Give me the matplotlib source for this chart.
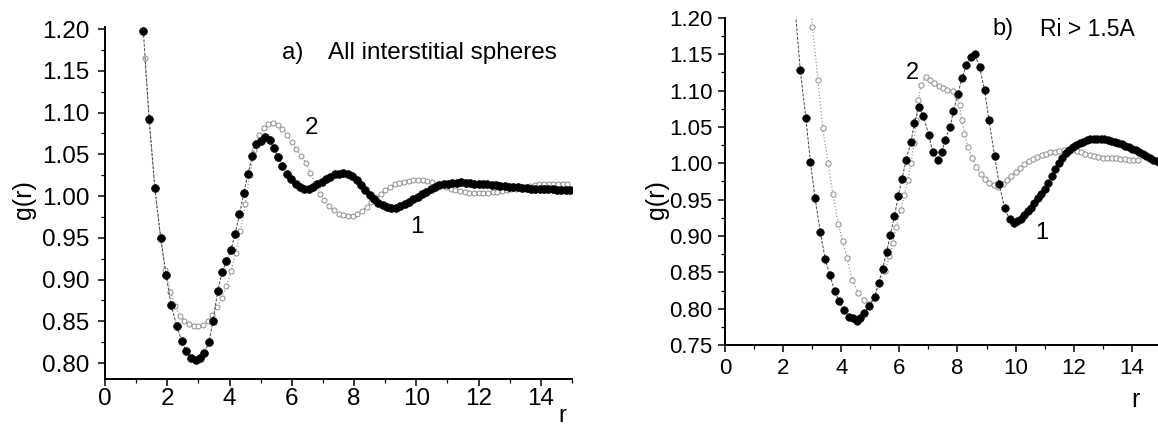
import matplotlib
matplotlib.use("Agg")
import matplotlib.pyplot as plt
from matplotlib.ticker import MultipleLocator, FormatStrFormatter

plt.rcParams['font.family'] = ['Liberation Sans', 'DejaVu Sans']

# ---------------- Panel a: all interstitial spheres ----------------
a1_r = [1.23, 1.42, 1.60, 1.79, 1.96, 2.12, 2.30, 2.46, 2.61, 2.76, 2.92, 3.05, 3.19, 3.34,
        3.47, 3.62, 3.76, 3.90, 4.04, 4.18, 4.32, 4.46, 4.59, 4.73, 4.86, 5.00, 5.15, 5.29,
        5.42, 5.56, 5.70, 5.84, 5.98, 6.12, 6.26, 6.40, 6.54, 6.68, 6.82, 6.96, 7.10, 7.24,
        7.38, 7.52, 7.66, 7.80, 7.94, 8.08, 8.22, 8.36, 8.50, 8.64, 8.78, 8.92, 9.06, 9.20,
        9.34, 9.48, 9.62, 9.76, 9.90, 10.04, 10.18, 10.32, 10.46, 10.60, 10.74, 10.88, 11.02,
        11.16, 11.30, 11.44, 11.58, 11.72, 11.86, 12.00, 12.14, 12.28, 12.42, 12.56, 12.70,
        12.84, 12.98, 13.12, 13.26, 13.40, 13.54, 13.68, 13.82, 13.96, 14.10, 14.24, 14.38,
        14.52, 14.66, 14.80, 14.94]
a1_g = [1.198, 1.092, 1.010, 0.950, 0.906, 0.870, 0.845, 0.827, 0.814, 0.806, 0.804, 0.806,
        0.812, 0.825, 0.851, 0.886, 0.909, 0.922, 0.935, 0.955, 0.978, 1.004, 1.026, 1.048,
        1.062, 1.066, 1.071, 1.067, 1.058, 1.047, 1.036, 1.027, 1.021, 1.015, 1.011, 1.009,
        1.009, 1.011, 1.014, 1.017, 1.020, 1.023, 1.026, 1.027, 1.028, 1.027, 1.024, 1.019,
        1.013, 1.007, 1.001, 0.996, 0.992, 0.989, 0.987, 0.986, 0.986, 0.988, 0.990, 0.993,
        0.996, 0.999, 1.002, 1.005, 1.008, 1.011, 1.013, 1.014, 1.015, 1.016, 1.016, 1.017,
        1.016, 1.016, 1.015, 1.015, 1.014, 1.014, 1.013, 1.013, 1.012, 1.012, 1.011, 1.011,
        1.011, 1.010, 1.010, 1.009, 1.009, 1.009, 1.008, 1.008, 1.008, 1.007, 1.007, 1.007,
        1.007]

a2_r = [1.28, 1.42, 1.60, 1.78, 1.94, 2.10, 2.25, 2.40, 2.55, 2.70, 2.85, 3.00, 3.15, 3.30,
        3.45, 3.60, 3.75, 3.90, 4.05, 4.20, 4.35, 4.50, 4.65, 4.80, 4.95, 5.10, 5.25, 5.40,
        5.55, 5.70, 5.85, 6.00, 6.15, 6.30, 6.45, 6.60, 6.75, 6.90, 7.05, 7.20, 7.35, 7.50,
        7.65, 7.80, 7.95, 8.10, 8.25, 8.40, 8.55, 8.70, 8.85, 9.00, 9.15, 9.30, 9.45, 9.60,
        9.75, 9.90, 10.05, 10.20, 10.35, 10.50, 10.65, 10.80, 10.95, 11.10, 11.25, 11.40,
        11.55, 11.70, 11.85, 12.00, 12.15, 12.30, 12.45, 12.60, 12.75, 12.90, 13.05, 13.20,
        13.35, 13.50, 13.65, 13.80, 13.95, 14.10, 14.25, 14.40, 14.55, 14.70, 14.85]
a2_g = [1.165, 1.090, 1.010, 0.950, 0.912, 0.885, 0.868, 0.857, 0.851, 0.847, 0.845, 0.844,
        0.846, 0.851, 0.858, 0.867, 0.878, 0.892, 0.910, 0.932, 0.958, 0.990, 1.025, 1.055,
        1.073, 1.082, 1.086, 1.087, 1.085, 1.080, 1.073, 1.065, 1.056, 1.048, 1.040, 1.028,
        1.015, 1.003, 0.995, 0.988, 0.983, 0.979, 0.977, 0.976, 0.976, 0.978, 0.982, 0.987,
        0.993, 0.998, 1.003, 1.007, 1.011, 1.014, 1.016, 1.017, 1.018, 1.019, 1.019, 1.019,
        1.018, 1.017, 1.015, 1.013, 1.011, 1.009, 1.007, 1.006, 1.005, 1.004, 1.004, 1.004,
        1.004, 1.004, 1.005, 1.005, 1.006, 1.007, 1.008, 1.009, 1.010, 1.011, 1.012, 1.013,
        1.014, 1.014, 1.015, 1.015, 1.015, 1.015, 1.015]

# ---------------- Panel b: Ri > 1.5A ----------------
b1_r = [2.42, 2.59, 2.78, 2.94, 3.10, 3.28, 3.45, 3.61, 3.77, 3.93, 4.09, 4.25, 4.39, 4.53,
        4.66, 4.79, 4.97, 5.15, 5.29, 5.42, 5.56, 5.69, 5.83, 5.96, 6.09, 6.23, 6.40, 6.52,
        6.67, 6.83, 7.01, 7.15, 7.32, 7.46, 7.57, 7.75, 7.86, 8.01, 8.16, 8.30, 8.45, 8.59,
        8.76, 8.93, 9.08, 9.28, 9.43, 9.62, 9.79, 9.93, 10.05, 10.17, 10.29, 10.41, 10.53,
        10.65, 10.77, 10.89, 11.01, 11.13, 11.25, 11.37, 11.49, 11.61, 11.73, 11.85, 11.97,
        12.09, 12.21, 12.33, 12.45, 12.57, 12.69, 12.81, 12.93, 13.05, 13.17, 13.29, 13.41,
        13.53, 13.65, 13.77, 13.89, 14.01, 14.13, 14.25, 14.37, 14.49, 14.61, 14.73, 14.85,
        14.97]
b1_g = [1.210, 1.128, 1.063, 1.002, 0.952, 0.905, 0.868, 0.846, 0.825, 0.810, 0.798, 0.789,
        0.787, 0.783, 0.787, 0.794, 0.804, 0.816, 0.836, 0.854, 0.878, 0.902, 0.927, 0.955,
        0.979, 1.004, 1.030, 1.055, 1.077, 1.065, 1.039, 1.015, 1.005, 1.015, 1.032, 1.050,
        1.072, 1.095, 1.118, 1.135, 1.147, 1.150, 1.133, 1.101, 1.060, 1.010, 0.972, 0.939,
        0.923, 0.918, 0.920, 0.924, 0.929, 0.934, 0.939, 0.945, 0.952, 0.958, 0.965, 0.973,
        0.982, 0.992, 1.000, 1.008, 1.014, 1.018, 1.022, 1.025, 1.028, 1.030, 1.032, 1.033,
        1.033, 1.033, 1.033, 1.033, 1.032, 1.031, 1.030, 1.028, 1.026, 1.024, 1.022, 1.020,
        1.018, 1.016, 1.013, 1.010, 1.007, 1.005, 1.003, 1.001]

b2_r = [2.85, 3.01, 3.20, 3.36, 3.55, 3.71, 3.90, 4.05, 4.20, 4.38, 4.58, 4.78, 4.95, 5.13,
        5.31, 5.50, 5.66, 5.77, 5.89, 6.05, 6.17, 6.29, 6.40, 6.50, 6.58, 6.64, 6.75, 6.90,
        7.05, 7.20, 7.35, 7.50, 7.65, 7.84, 7.98, 8.07, 8.15, 8.24, 8.36, 8.50, 8.65, 8.80,
        8.95, 9.10, 9.25, 9.40, 9.55, 9.70, 9.85, 10.00, 10.15, 10.30, 10.45, 10.60, 10.75,
        10.90, 11.05, 11.20, 11.35, 11.50, 11.65, 11.80, 11.95, 12.10, 12.25, 12.40, 12.55,
        12.70, 12.85, 13.00, 13.15, 13.30, 13.45, 13.60, 13.75, 13.90, 14.05, 14.20]
b2_g = [1.250, 1.188, 1.115, 1.048, 1.001, 0.958, 0.917, 0.893, 0.870, 0.840, 0.822, 0.812,
        0.806, 0.815, 0.835, 0.852, 0.872, 0.890, 0.913, 0.936, 0.956, 0.977, 1.000, 1.028,
        1.060, 1.087, 1.108, 1.119, 1.115, 1.110, 1.106, 1.103, 1.101, 1.099, 1.092, 1.080,
        1.060, 1.041, 1.023, 1.008, 0.995, 0.985, 0.978, 0.973, 0.970, 0.968, 0.971, 0.977,
        0.982, 0.988, 0.994, 0.999, 1.003, 1.006, 1.009, 1.011, 1.013, 1.015, 1.016, 1.017,
        1.018, 1.018, 1.018, 1.017, 1.015, 1.013, 1.011, 1.010, 1.009, 1.008, 1.008, 1.007,
        1.007, 1.006, 1.006, 1.005, 1.005, 1.005]

a_ticks_y = [0.80, 0.85, 0.90, 0.95, 1.00, 1.05, 1.10, 1.15, 1.20]
b_ticks_y = [0.75, 0.80, 0.85, 0.90, 0.95, 1.00, 1.05, 1.10, 1.15, 1.20]
x_ticks = [0, 2, 4, 6, 8, 10, 12, 14]

W, H = 1158, 429
fig = plt.figure(figsize=(W / 100, H / 100), dpi=100)


def px_axes(left, top, right, bottom):
    return fig.add_axes([left / W, 1 - bottom / H, (right - left) / W, (bottom - top) / H])


def style(ax, fs_tick, ypad, xpad):
    for s in ('top', 'right'):
        ax.spines[s].set_visible(False)
    for s in ('left', 'bottom'):
        ax.spines[s].set_linewidth(1.4)
    ax.xaxis.set_major_locator(MultipleLocator(2))
    ax.xaxis.set_minor_locator(MultipleLocator(1))
    ax.yaxis.set_major_locator(MultipleLocator(0.05))
    ax.yaxis.set_minor_locator(MultipleLocator(0.025))
    ax.yaxis.set_major_formatter(FormatStrFormatter('%.2f'))
    ax.tick_params(which='major', direction='out', length=5, width=1.1, labelsize=fs_tick)
    ax.tick_params(which='minor', direction='out', length=3, width=0.9)
    ax.tick_params(axis='y', pad=ypad)
    ax.tick_params(axis='x', pad=xpad)


def plot_pair(ax, r1, g1, r2, g2, ms1, ms2):
    ax.plot(r2, g2, linestyle=':', color='#9a9a9a', linewidth=0.9, marker='o',
            markersize=ms2, markerfacecolor='white', markeredgecolor='#8c8c8c',
            markeredgewidth=0.7, clip_on=True, zorder=2)
    ax.plot(r1, g1, linestyle=(0, (3, 1.5)), color='#444444', linewidth=0.7, marker='o',
            markersize=ms1, markerfacecolor='black', markeredgecolor='black',
            markeredgewidth=0.5, clip_on=True, zorder=3)


# Panel a
axa = px_axes(105, 27, 572, 379)
plot_pair(axa, a1_r, a1_g, a2_r, a2_g, 5.6, 3.6)
axa.set_xlim(0, 15)
axa.set_ylim(0.781, 1.2025)
style(axa, 17.5, 6, 1.5)
axa.set_xticks(x_ticks)
axa.set_yticks(a_ticks_y)

# Panel b
axb = px_axes(725, 18, 1158, 345)
plot_pair(axb, b1_r, b1_g, b2_r, b2_g, 5.4, 3.8)
axb.set_xlim(0, 14.9)
axb.set_ylim(0.75, 1.20)
style(axb, 16, 4, 4)
axb.set_xticks(x_ticks)
axb.set_yticks(b_ticks_y)


def ftext(x, y, s, size, **kw):
    fig.text(x / W, 1 - y / H, s, fontsize=size, va='center', **kw)


# axis labels
ftext(24, 200, 'g(r)', 18, ha='center', rotation=90)
fig.text(558 / W, 2 / H, 'r', fontsize=17, ha='left', va='bottom')
ftext(657, 200, 'g(r)', 18, ha='center', rotation=90)
ftext(1135, 400, 'r', 18, ha='center')

# annotations panel a
ftext(282, 53, 'a)', 17.5, ha='left')
ftext(328, 53, 'All interstitial spheres', 17.5, ha='left')
ftext(312, 128, '2', 17.5, ha='center')
ftext(417, 227, '1', 17.5, ha='center')

# annotations panel b
ftext(992, 29, 'b)', 17, ha='left')
ftext(1040, 30, 'Ri > 1.5A', 16.5, ha='left')
ftext(912, 73, '2', 17, ha='center')
ftext(1042, 233, '1', 17, ha='center')

fig.savefig('out.png', dpi=100)
